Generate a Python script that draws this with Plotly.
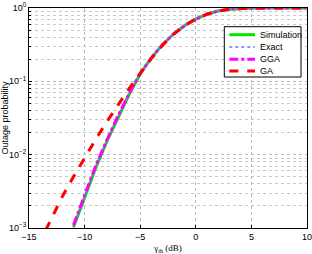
import plotly.graph_objects as go

snr_db = [-14, -13.5, -13, -12, -11, -10, -9, -8, -7, -6, -5, -4, -3, -2, -1, 0, 1, 2, 3, 4, 5, 6, 7, 8, 9, 10]

sim_log = [None, None, None, None, -2.99, -2.57, -2.18, -1.82, -1.49, -1.18, -0.90, -0.68, -0.50,
           -0.355, -0.24, -0.15, -0.085, -0.042, -0.017, -0.006, -0.002, -0.0005, -0.0001, 0, 0, 0]
exact_log = sim_log
gga_log = [None, None, None, None, -2.96, -2.54, -2.15, -1.80, -1.47, -1.17, -0.89, -0.68, -0.50,
           -0.355, -0.24, -0.15, -0.085, -0.042, -0.017, -0.006, -0.002, -0.0005, -0.0001, 0, 0, 0]
ga_log = [None, -3.03, -2.87, -2.57, -2.30, -2.04, -1.79, -1.55, -1.32, -1.10, -0.89, -0.69, -0.51,
          -0.355, -0.24, -0.15, -0.085, -0.042, -0.017, -0.006, -0.002, -0.0005, -0.0001, 0, 0, 0]

series_names = ["Simulation", "Exact", "GGA", "GA"]
series_colors = ["#00e600", "#7070ff", "#ff00ff", "#ff0000"]
series_dash = ["solid", "dot", "dashdot", "dash"]
series_width = [3, 1.5, 3, 3]

def to_p(vals):
    return [None if v is None else 10 ** v for v in vals]

fig = go.Figure()
for name, vals, col, dash, w in zip(series_names, [sim_log, exact_log, gga_log, ga_log],
                                    series_colors, series_dash, series_width):
    fig.add_trace(go.Scatter(x=snr_db, y=to_p(vals), mode="lines", name=name,
                             line=dict(color=col, width=w, dash=dash), showlegend=False))

# custom legend (pixel layout converted to paper coords)
L, R, T, B = 29, 307, 8, 228
def px(xp):
    return (xp - L) / (R - L)
def py(yp):
    return (B - yp) / (B - T)

shapes = [dict(type="rect", xref="paper", yref="paper", x0=px(224.3), x1=px(301), y0=py(77), y1=py(26.7),
               line=dict(color="black", width=1), fillcolor="white", layer="above")]
annotations = []
entry_y = [34.7, 47, 59.3, 71]
for name, col, dash, w, ey in zip(series_names, series_colors, series_dash, series_width, entry_y):
    shapes.append(dict(type="line", xref="paper", yref="paper", x0=px(229.3), x1=px(255), y0=py(ey), y1=py(ey),
                       line=dict(color=col, width=w, dash=dash), layer="above"))
    annotations.append(dict(text=name, xref="paper", yref="paper", x=px(257.5), y=py(ey),
                            xanchor="left", yanchor="middle", showarrow=False,
                            font=dict(size=9, color="black")))

y_tickvals = [1e-3, 1e-2, 1e-1, 1]
y_ticktext = ["10<sup>−3</sup>", "10<sup>−2</sup>", "10<sup>−1</sup>", "10<sup>0</sup>"]
y_minor = [m * 10 ** e for e in (-3, -2, -1) for m in range(2, 10)]

fig.update_layout(
    width=312, height=254,
    margin=dict(l=L, r=312 - R, t=T, b=254 - B),
    paper_bgcolor="white", plot_bgcolor="white",
    font=dict(family="Liberation Sans, Arial, sans-serif", size=9, color="black"),
    showlegend=False,
    shapes=shapes, annotations=annotations,
)
fig.update_xaxes(range=[-15, 10], tickvals=[-15, -10, -5, 0, 5, 10],
                 ticktext=["−15", "−10", "−5", "0", "5", "10"], automargin=False,
                 ticklabeloverflow="allow",
                 showgrid=True, gridcolor="#b8b8b8", griddash="dot", gridwidth=1,
                 showline=True, linecolor="black", linewidth=1, mirror=True,
                 ticks="inside", ticklen=3, tickcolor="black", zeroline=False,
                 title=dict(text="γ<sub>th</sub> (dB)", font=dict(family="Liberation Serif, serif", size=9),
                            standoff=6))
fig.update_yaxes(type="log", range=[-3, 0], tickvals=y_tickvals, ticktext=y_ticktext, automargin=False,
                 ticklabeloverflow="allow",
                 showgrid=True, gridcolor="#b8b8b8", griddash="dot", gridwidth=1,
                 showline=True, linecolor="black", linewidth=1, mirror=True,
                 ticks="inside", ticklen=3, tickcolor="black", zeroline=False,
                 minor=dict(tickvals=y_minor, showgrid=True, gridcolor="#c8c8c8", griddash="dot",
                            ticks="inside", ticklen=2, tickcolor="black"),
                 title=dict(text="Outage probability", font=dict(size=9), standoff=2))

fig.write_html("out.html")
